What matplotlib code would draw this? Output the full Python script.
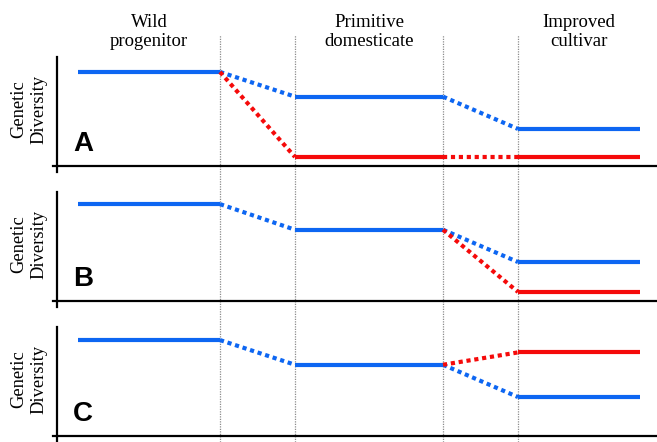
import numpy as np
import matplotlib
matplotlib.use("Agg")
import matplotlib.pyplot as plt
from matplotlib.transforms import blended_transform_factory

# data: diversity level per stage (wild, primitive, improved), nan = not drawn
stages = ["Wild\nprogenitor", "Primitive\ndomesticate", "Improved\ncultivar"]
panels = ["A", "B", "C"]
blue_levels = [
    [0.99, 0.73, 0.39],
    [1.02, 0.75, 0.41],
    [1.01, 0.75, 0.41],
]
red_levels = [
    [np.nan, 0.095, 0.095],
    [np.nan, np.nan, 0.095],
    [np.nan, np.nan, 0.88],
]

# layout (x in stage units)
stage_start = [0.0, 2.893, 5.867]
stage_end = [1.893, 4.867, 7.493]
xlim = (-0.3333, 7.72)
ylim = (-6 / 95, 109 / 95)

blue = "#0d66f2"
red = "#f50a0a"
dots = (0, (1.0, 0.9))

W, H = 657, 442
fig = plt.figure(figsize=(W / 100, H / 100), dpi=100)

# background axes with the vertical dotted stage boundaries
bg = fig.add_axes([53 / W, 0, 604 / W, (H - 35) / H])
bg.set_xlim(xlim)
bg.set_ylim(0, 1)
bg.axis("off")
for x in stage_end[:-1] + stage_start[1:]:
    bg.axvline(x, color="#8c8c8c", lw=0.9, ls=(0, (1, 1)), zorder=0)

tr = blended_transform_factory(bg.transData, fig.transFigure)
for s, e, name in zip(stage_start, stage_end, stages):
    bg.text((s + e) / 2, 1 - 32 / H, name, transform=tr, ha="center", va="center",
            family="Liberation Serif", fontsize=13.5, linespacing=1.2)


def draw_series(ax, levels, color, base=None):
    for k in range(3):
        if not np.isnan(levels[k]):
            ax.plot([stage_start[k], stage_end[k]], [levels[k], levels[k]],
                    color=color, lw=3, solid_capstyle="butt", zorder=3)
    for k in range(2):
        if np.isnan(levels[k + 1]):
            continue
        y0 = levels[k]
        if np.isnan(y0):
            y0 = base[k]
        ax.plot([stage_end[k], stage_start[k + 1]], [y0, levels[k + 1]],
                color=color, lw=3, ls=dots, dash_capstyle="butt", zorder=3)


for i, letter in enumerate(panels):
    top = 57 + 135 * i
    ax = fig.add_axes([53 / W, 1 - (top + 115) / H, 604 / W, 115 / H])
    ax.patch.set_alpha(0)
    ax.set_xlim(xlim)
    ax.set_ylim(ylim)
    ax.set_xticks([])
    ax.set_yticks([])
    for sp in ["top", "right"]:
        ax.spines[sp].set_visible(False)
    ax.spines["left"].set_position(("axes", 4 / 604))
    ax.spines["bottom"].set_position(("axes", 6 / 115))
    ax.spines["left"].set_linewidth(1.6)
    ax.spines["bottom"].set_linewidth(1.6)

    draw_series(ax, blue_levels[i], blue)
    draw_series(ax, red_levels[i], red, base=blue_levels[i])

    ax.text(-0.067, 0.16, letter, ha="left", va="baseline", fontsize=20,
            fontweight="bold", family="Liberation Sans")
    fig.text(29 / W, 1 - (top + 52) / H, "Genetic\nDiversity", rotation=90,
             ha="center", va="center", family="Liberation Serif", fontsize=13.3,
             linespacing=1.2)

fig.savefig("out.png", dpi=100)
